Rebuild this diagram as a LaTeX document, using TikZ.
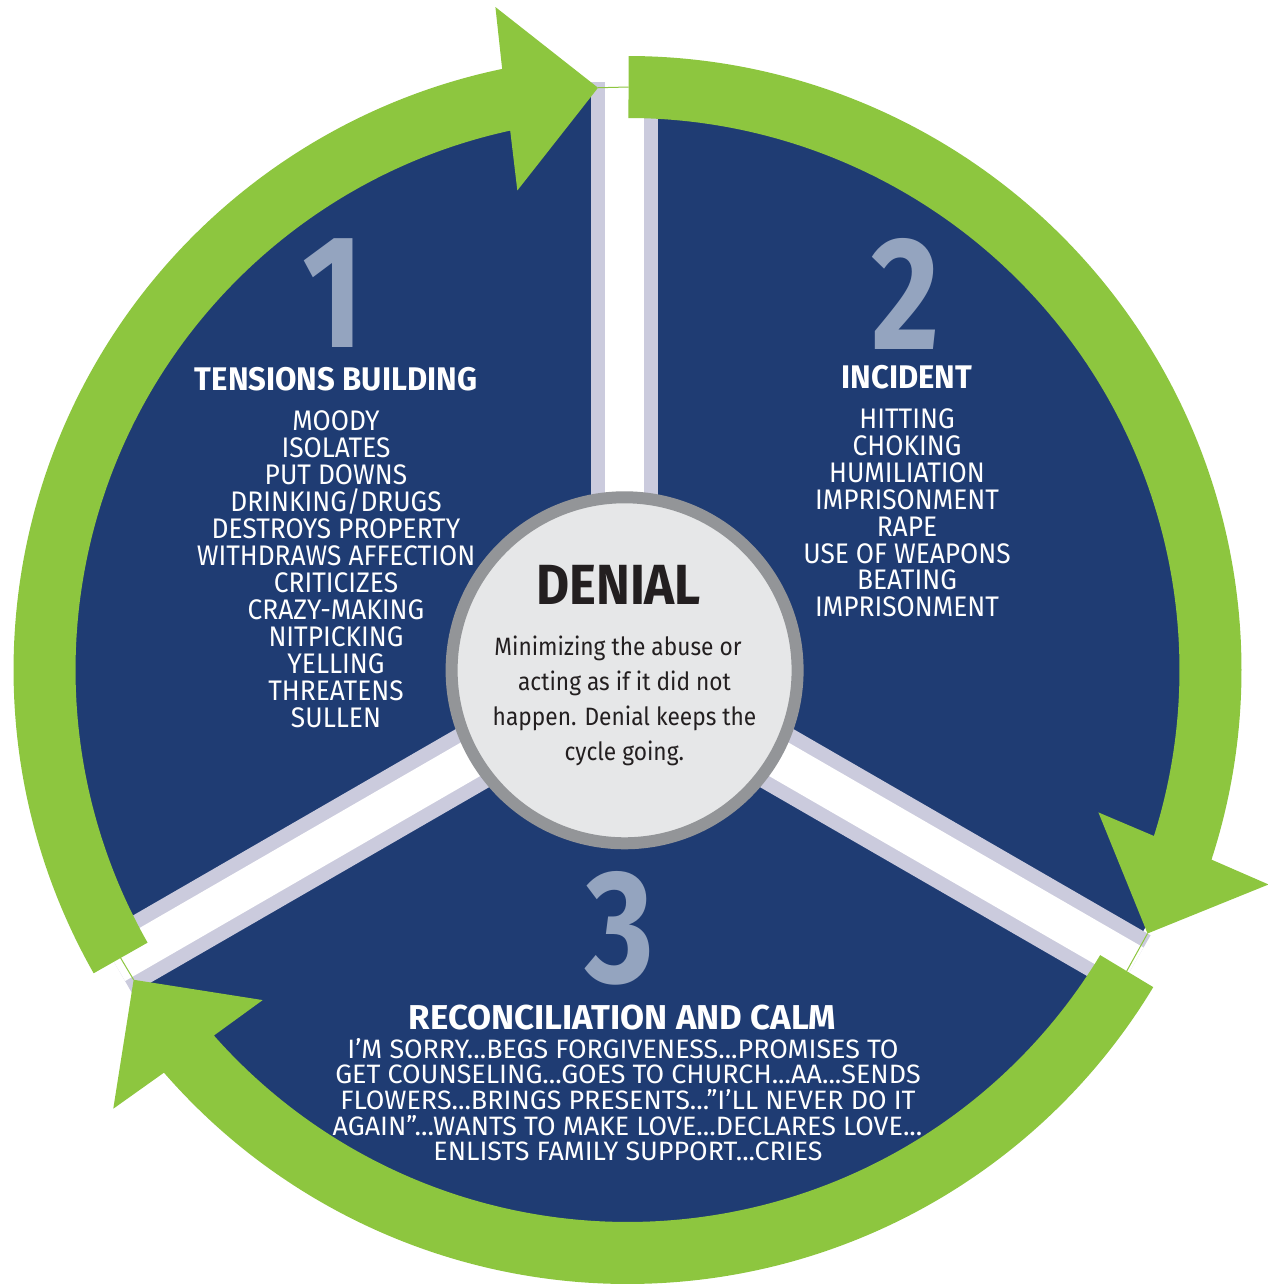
\documentclass[tikz,border=0pt]{standalone}
\usepackage{fontspec}
\setmainfont{Fira Sans}[FakeStretch=0.95]
\newfontfamily\numfont{Fira Sans}[FakeStretch=0.82]
\newfontfamily\denfont{Fira Sans}[FakeStretch=0.9]
\newfontfamily\listfont{Fira Sans}[FakeStretch=0.93]
\newfontfamily\bodyfont{Fira Sans}[FakeStretch=0.905]
\newfontfamily\calmfont{Fira Sans}[FakeStretch=1.01]
\definecolor{navyblue}{HTML}{1F3C73}
\definecolor{cyclegreen}{HTML}{8DC63F}
\definecolor{lavender}{HTML}{CBCBDD}
\definecolor{numblue}{HTML}{94A4BF}
\definecolor{ringgray}{HTML}{939598}
\definecolor{pale}{HTML}{E6E7E8}
\definecolor{ink}{HTML}{231F20}
\newcommand\cyclearrow[2]{%
  \fill[cyclegreen] (#1:614) arc[start angle=#1, end angle={#2+8.88}, radius=614]
    -- ({#2+8.37}:676) -- (#2:583) -- ({#2+10.04}:492) -- ({#2+9.37}:552)
    arc[start angle={#2+9.37}, end angle=#1, radius=552] -- cycle;}
\begin{document}
\begin{tikzpicture}[x=1pt,y=1pt,
  sepedge/.style={line width=67, draw=lavender},
  sepcore/.style={line width=38.7, draw=white},
  guide/.style={draw=cyclegreen, line width=1},
  numtext/.style={inner sep=0, anchor=base, text=numblue, font=\numfont\bfseries\fontsize{161}{161}\selectfont},
  headtext/.style={inner sep=0, anchor=base, text=white, font=\bfseries\fontsize{32.7}{32.7}\selectfont},
  listtext/.style={inner sep=0, anchor=base, text=white, font=\listfont\fontsize{28.3}{28.3}\selectfont},
  calmtext/.style={inner sep=0, anchor=base, text=white, font=\calmfont\fontsize{26.6}{26.6}\selectfont},
  bodytext/.style={inner sep=0, anchor=base, text=ink, font=\bodyfont\fontsize{25.1}{25.1}\selectfont},
  denialcircle/.style={circle, minimum size=346, inner sep=0, draw=ringgray, line width=12, fill=pale}]
\useasboundingbox (0,0) rectangle (1268,1285);
\coordinate (O) at (624.6,614.7);
\coordinate (C) at (627.5,615);
% disk
\fill[navyblue] (C) circle (578);
% separators
\foreach \a in {90,210,330}{
  \draw[sepedge] (O) -- ++(\a:588);
  \draw[sepcore] (O) -- ++(\a:588);
}
% green cycle arrows
\begin{scope}[shift={(C)}]
  \cyclearrow{209.6}{92.9}
  \cyclearrow{89.9}{-26.87}
  \cyclearrow{-31.1}{-147.9}
  \coordinate (tip1) at (92.9:583);
  \coordinate (start2) at (89.9:583);
  \coordinate (tip2) at (-26.87:583);
  \coordinate (start3) at (-31.1:583);
  \coordinate (tip3) at (-147.9:583);
  \coordinate (start1) at (209.6:583);
\end{scope}
\draw[guide] (tip1) -- (start2);
\draw[guide] (tip2) -- (start3);
\draw[guide] (tip3) -- (start1);
% center circle
\node[denialcircle] (den) at (O) {};
\node[inner sep=0, anchor=base, text=ink, font=\denfont\bfseries\fontsize{56.6}{56.6}\selectfont] (dtitle) at (618.7,680) {DENIAL};
\node[bodytext] (d1) at (618,629.3) {Minimizing the abuse or};
\node[bodytext] (d2) at (624.5,594.5) {acting as if it did not};
\node[bodytext] (d3) at (624.5,559.7) {happen. Denial keeps the};
\node[bodytext] (d4) at (624.3,524.9) {cycle going.};
% stage 1
\node[numtext] (n1) at (333,937.3) {1};
\node[headtext] (h1) at (336,894.3) {TENSIONS BUILDING};
\foreach \t [count=\i] in {MOODY,ISOLATES,PUT DOWNS,DRINKING/DRUGS,DESTROYS PROPERTY,WITHDRAWS AFFECTION,CRITICIZES,CRAZY-MAKING,NITPICKING,YELLING,THREATENS,SULLEN}
  \node[listtext] (a\i) at (336,{854.3-27*(\i-1)}) {\t};
% stage 2
\node[numtext] (n2) at (906,935) {2};
\node[headtext] (h2) at (907,896.7) {INCIDENT};
\foreach \t [count=\i] in {HITTING,CHOKING,HUMILIATION,IMPRISONMENT,RAPE,USE OF WEAPONS,BEATING,IMPRISONMENT}
  \node[listtext] (b\i) at (907,{856.7-26.95*(\i-1)}) {\t};
% stage 3
\node[numtext] (n3) at (620,302) {3};
\node[headtext, font=\calmfont\bfseries\fontsize{34.5}{34.5}\selectfont] (h3) at (622.5,255) {RECONCILIATION AND CALM};
\node[calmtext] (c1) at (623,226.7) {I’M SORRY...BEGS FORGIVENESS...PROMISES TO};
\node[calmtext] (c2) at (628,201.1) {GET COUNSELING...GOES TO CHURCH...AA...SENDS};
\node[calmtext] (c3) at (628,175.5) {FLOWERS...BRINGS PRESENTS...”I’LL NEVER DO IT};
\node[calmtext] (c4) at (627.5,149.9) {AGAIN”...WANTS TO MAKE LOVE...DECLARES LOVE...};
\node[calmtext] (c5) at (628,124.3) {ENLISTS FAMILY SUPPORT...CRIES};
\end{tikzpicture}
\end{document}
